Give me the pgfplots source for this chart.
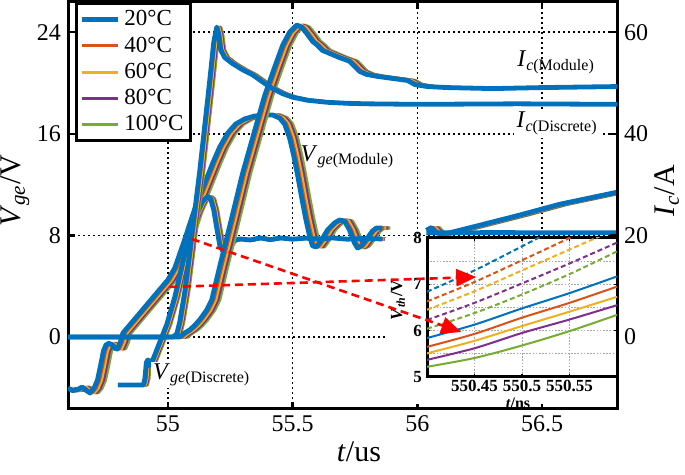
\documentclass[border=0pt]{standalone}
\usepackage{fontspec}
\setmainfont{Liberation Serif}
\usepackage{pgfplots}
\pgfplotsset{compat=1.18}
\usepackage{pgfplotstable}
\usetikzlibrary{arrows.meta,calc}
\definecolor{c1}{HTML}{0072BD}
\definecolor{c2}{HTML}{D95319}
\definecolor{c3}{HTML}{EDB120}
\definecolor{c4}{HTML}{7E2F8E}
\definecolor{c5}{HTML}{77AC30}
\newcommand\fs[1]{\fontsize{#1}{#1}\selectfont}

\pgfplotstableread{
t v
54.600 -4.02
54.618 -4.22
54.636 -4.17
54.656 -3.94
54.672 -4.20
54.688 -4.41
54.704 -4.05
54.718 -3.40
54.730 -2.30
54.742 -1.10
54.752 -0.62
54.764 -0.50
54.776 -0.62
54.788 -0.90
54.798 -0.95
54.810 -0.40
54.820 0.31
54.848 0.96
54.888 1.89
54.928 2.82
54.968 3.75
55.000 4.49
55.028 5.43
55.060 7.24
55.088 8.90
55.116 10.55
55.148 12.13
55.180 13.70
55.208 14.96
55.240 16.06
55.272 16.77
55.308 17.17
55.348 17.40
55.388 17.48
55.420 17.48
55.448 17.24
55.468 16.77
55.488 15.67
55.504 14.33
55.520 12.76
55.536 11.02
55.552 9.37
55.568 7.95
55.580 7.17
55.596 7.09
55.616 7.64
55.640 8.43
55.668 8.98
55.688 9.21
55.708 9.13
55.728 8.43
55.748 7.40
55.760 7.01
55.776 7.17
55.800 7.80
55.820 8.35
55.836 8.58
55.860 8.58
}\vgem

\pgfplotstableread{
t v
56.036 8.40
56.056 8.62
56.076 8.20
56.100 8.10
56.128 8.20
56.250 8.80
56.410 9.60
56.570 10.45
56.800 11.40
}\vgemtail

\pgfplotstableread{
t v
54.800 -3.78
54.902 -3.78
54.908 -3.30
54.914 -2.00
54.920 -1.80
54.926 -2.25
54.934 -2.05
54.944 -1.60
54.958 -0.90
54.976 0.00
54.996 1.00
55.028 3.15
55.060 5.90
55.088 8.10
55.116 9.70
55.140 10.70
55.160 11.06
55.172 10.87
55.184 10.00
55.196 8.60
55.208 7.24
55.220 6.77
55.236 7.00
55.256 7.56
55.288 7.72
55.330 7.64
55.370 7.80
55.410 7.66
55.450 7.80
55.500 7.70
55.550 7.78
55.600 7.72
55.660 7.80
55.720 7.70
55.780 7.76
55.860 7.72
}\vged

\pgfplotstableread{
t v
56.036 8.20
56.300 8.22
56.800 8.20
}\vgedtail

\pgfplotstableread{
t v
54.600 0.0
55.048 0.0
55.068 0.8
55.088 1.4
55.108 2.3
55.128 3.4
55.156 5.3
55.176 7.3
55.208 13.9
55.248 21.8
55.300 32.3
55.348 40.6
55.388 47.5
55.428 53.1
55.460 57.4
55.488 60.0
55.516 61.4
55.536 61.0
55.556 59.8
55.580 58.2
55.600 57.4
55.620 56.4
55.640 56.0
55.688 55.0
55.728 54.3
55.748 53.3
55.768 52.3
55.796 51.7
55.840 51.3
55.900 50.9
55.960 50.5
55.990 49.7
56.040 49.3
56.120 49.1
56.300 48.9
56.500 49.1
56.650 49.2
56.800 49.3
}\icm

\pgfplotstableread{
t v
54.600 0.0
55.020 0.0
55.036 0.6
55.048 3.0
55.068 8.9
55.088 16.8
55.108 24.8
55.128 32.7
55.148 41.6
55.168 50.5
55.184 58.0
55.196 61.0
55.204 59.5
55.212 56.5
55.228 55.0
55.260 53.8
55.300 52.6
55.340 51.6
55.380 50.2
55.420 48.9
55.460 47.9
55.500 47.2
55.560 46.6
55.640 46.2
55.720 46.0
55.800 45.9
56.000 45.8
56.400 45.9
56.800 45.8
}\icd

\pgfplotstableread{
t bs os ys ps gs bd od yd pd gd
550.40 5.84 5.65 5.51 5.37 5.22 6.84 6.63 6.45 6.23 6.04
550.45 6.13 5.93 5.78 5.62 5.41 7.30 7.05 6.85 6.60 6.38
550.50 6.48 6.28 6.10 5.95 5.68 7.82 7.52 7.30 7.02 6.78
550.55 6.81 6.60 6.41 6.24 5.99 8.35 8.00 7.75 7.45 7.22
550.60 7.17 6.95 6.73 6.55 6.34 8.90 8.50 8.20 7.90 7.71
}\ins

\newcommand\vlayer[4]{%
  \addplot[#1, line width=#2, line join=round, xshift=#3, forget plot] table[x=t,y=v]{\vgem};
  \addplot[#1, line width=#2, line join=round, xshift=#3, forget plot] table[x=t,y=v]{\vgemtail};
  \addplot[#1, line width=#2, line join=round, xshift=#4, forget plot] table[x=t,y=v]{\vged};
  \addplot[#1, line width=#2, line join=round, xshift=#4, forget plot] table[x=t,y=v]{\vgedtail};
}
\newcommand\ilayer[4]{%
  \addplot[#1, line width=#2, line join=round, xshift=#3, forget plot] table[x=t,y=v]{\icm};
  \addplot[#1, line width=#2, line join=round, xshift=#4, forget plot] table[x=t,y=v]{\icd};
}

\begin{document}
\begin{tikzpicture}
\begin{axis}[
  name=main,
  scale only axis, width=274.5pt, height=203.5pt,
  xmin=54.6, xmax=56.8, ymin=-5.67, ymax=26.38,
  xtick={55,55.5,56,56.5}, ytick={0,8,16,24},
  ytick pos=left,
  grid=major,
  major grid style={black, line width=0.75pt, dash pattern=on 0.75pt off 1.75pt},
  axis line style={line width=1.5pt},
  major tick length=3.5pt,
  every tick/.style={black, line width=1.2pt},
  /pgf/number format/assume math mode=true,
  tick label style={font=\rmfamily\fs{12}},
  xlabel={\textit{t}/us},
  ylabel={\textit{V}\textsubscript{\textit{ge}}/V},
  xlabel style={at={(0.53,-0.1057)}, anchor=center, font=\fs{15}},
  ylabel style={at={(-0.0966,0.536)}, anchor=center, font=\fs{15}},
  legend style={at={(0.0128,1)}, anchor=north west, draw=black, line width=1.5pt,
     fill=white, font=\rmfamily\fs{11.5}, inner xsep=1.5pt, inner ysep=1.5pt, row sep=0pt,
     cells={anchor=west}},
  legend cell align=left,
  legend image code/.code={\draw[#1] (0pt,0pt) -- (18pt,0pt);},
]
\addlegendimage{c1, line width=2.4pt}\addlegendentry{20°C}
\addlegendimage{c2, line width=1.5pt}\addlegendentry{40°C}
\addlegendimage{c3, line width=1.5pt}\addlegendentry{60°C}
\addlegendimage{c4, line width=1.5pt}\addlegendentry{80°C}
\addlegendimage{c5, line width=1.5pt}\addlegendentry{100°C}
\vlayer{c5}{1.6pt}{4pt}{2pt}
\vlayer{c4}{1.6pt}{3pt}{1.5pt}
\vlayer{c3}{1.6pt}{2pt}{1pt}
\vlayer{c2}{1.6pt}{1pt}{0.5pt}
\vlayer{c1}{2.4pt}{0pt}{0pt}
\node[font=\fs{12}] at (axis cs:55.72,14.17) {\textit{V}\textsubscript{\textit{ge}(Module)}};
\node[font=\fs{12}, fill=white, inner sep=1pt] at (axis cs:55.136,-2.99) {\textit{V}\textsubscript{\textit{ge}(Discrete)}};
\coordinate (a1s) at (axis cs:55.096,7.72);
\coordinate (a1e) at (axis cs:56.176,0.39);
\coordinate (a2s) at (axis cs:55.008,3.94);
\coordinate (a2e) at (axis cs:56.236,4.72);
\end{axis}

\begin{axis}[
  scale only axis, width=274.5pt, height=203.5pt,
  xmin=54.6, xmax=56.8, ymin=-14.175, ymax=65.95,
  axis y line*=right, axis x line=none,
  ytick={0,20,40,60},
  axis line style={line width=1.5pt},
  major tick length=3.5pt,
  every tick/.style={black, line width=1.2pt},
  /pgf/number format/assume math mode=true,
  tick label style={font=\rmfamily\fs{12}},
  ylabel={\textit{I}\textsubscript{\textit{c}}/A},
  ylabel style={at={(1.0911,0.536)}, anchor=center, font=\fs{15}},
]
\ilayer{c5}{1.6pt}{4pt}{2pt}
\ilayer{c4}{1.6pt}{3pt}{1.5pt}
\ilayer{c3}{1.6pt}{2pt}{1pt}
\ilayer{c2}{1.6pt}{1pt}{0.5pt}
\ilayer{c1}{2.4pt}{0pt}{0pt}
\node[font=\fs{12}] at (axis cs:56.556,54.1) {\textit{I}\textsubscript{\textit{c}(Module)}};
\node[font=\fs{12}, fill=white, inner sep=1.5pt] at (axis cs:56.56,42.0) {\textit{I}\textsubscript{\textit{c}(Discrete)}};
\fill[white] (rel axis cs:0.5774,0.0123) rectangle (rel axis cs:0.997,0.4201);
\end{axis}

\begin{axis}[
  name=ins,
  at={(179.5pt,16pt)}, anchor=south west,
  scale only axis, width=95pt, height=69.5pt,
  xmin=550.4, xmax=550.6, ymin=5, ymax=8,
  xtick={550.45,550.5,550.55}, xticklabels={550.45,550.5,550.55},
  ytick={5,6,7,8}, yticklabels={5,6,7,8},
  minor ytick={5.5,6.5,7.5},
  grid=both,
  major grid style={gray!70, line width=0.4pt, dash pattern=on 0.8pt off 0.8pt},
  minor grid style={gray!70, line width=0.4pt, dash pattern=on 0.8pt off 0.8pt},
  axis background/.style={fill=white},
  axis line style={line width=1.5pt},
  major tick length=1.5pt, minor tick length=0pt,
  every tick/.style={black, line width=0.6pt},
  tick label style={font=\rmfamily\bfseries\fs{8.5}},
  xticklabel style={yshift=2pt},
  yticklabel style={xshift=1pt},
  xlabel={\textbf{\textit{t}/ns}},
  ylabel={\textbf{\textit{V}\textsubscript{\textit{th}}/V}},
  xlabel style={at={(0.479,-0.19)}, anchor=center, font=\bfseries\fs{8}},
  ylabel style={at={(-0.153,0.554)}, anchor=center, font=\bfseries\fs{8.5}},
]
\addplot[c1, line width=1pt, smooth] table[x=t,y=bs]{\ins};
\addplot[c2, line width=1pt, smooth] table[x=t,y=os]{\ins};
\addplot[c3, line width=1pt, smooth] table[x=t,y=ys]{\ins};
\addplot[c4, line width=1pt, smooth] table[x=t,y=ps]{\ins};
\addplot[c5, line width=1pt, smooth] table[x=t,y=gs]{\ins};
\addplot[c1, line width=1pt, smooth, dash pattern=on 2.5pt off 1.5pt] table[x=t,y=bd]{\ins};
\addplot[c2, line width=1pt, smooth, dash pattern=on 2.5pt off 1.5pt] table[x=t,y=od]{\ins};
\addplot[c3, line width=1pt, smooth, dash pattern=on 2.5pt off 1.5pt] table[x=t,y=yd]{\ins};
\addplot[c4, line width=1pt, smooth, dash pattern=on 2.5pt off 1.5pt] table[x=t,y=pd]{\ins};
\addplot[c5, line width=1pt, smooth, dash pattern=on 2.5pt off 1.5pt] table[x=t,y=gd]{\ins};
\end{axis}

\draw[red, line width=1.3pt, dash pattern=on 4pt off 2.5pt, -{Triangle[length=10pt,width=8.5pt]}] (a1s) -- (a1e);
\draw[red, line width=1.3pt, dash pattern=on 4pt off 2.5pt, -{Triangle[length=10pt,width=8.5pt]}] (a2s) -- (a2e);

\pgfresetboundingbox
\useasboundingbox (-34pt,-33pt) rectangle (308.5pt,204.5pt);
\end{tikzpicture}
\end{document}
